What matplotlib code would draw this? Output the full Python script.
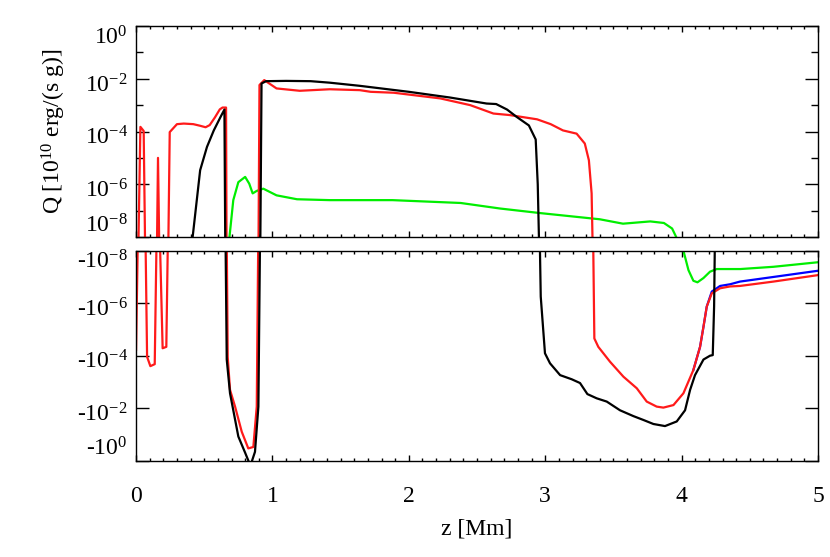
import numpy as np
import matplotlib
matplotlib.use('Agg')
import matplotlib.pyplot as plt
import matplotlib.transforms as mtransforms
from matplotlib.ticker import MultipleLocator, NullLocator, FixedLocator

# heating rate Q vs height z, signed (negative part goes in lower panel)
z_black = [0.40, 0.415, 0.47, 0.52, 0.57, 0.62, 0.648, 0.655, 0.665, 0.689, 0.75, 0.80,
           0.835, 0.848, 0.872, 0.897, 0.91, 0.92, 0.953, 1.10, 1.28, 1.42, 1.64, 2.00,
           2.30, 2.57, 2.64, 2.72, 2.79, 2.88, 2.93, 2.945, 2.958, 2.967, 2.998, 3.035,
           3.109, 3.194, 3.255, 3.309, 3.377, 3.451, 3.548, 3.646, 3.719, 3.793, 3.878,
           3.964, 4.025, 4.062, 4.098, 4.16, 4.208, 4.228, 4.238, 4.245]
q_black = [0, 1e-8, 3.4e-6, 2.6e-5, 1.1e-4, 3.6e-4, 6.8e-4, 0, -1.4e-4, -2.7e-3, -0.12, -0.5,
           -1.4, -1.1, -0.46, -8.7e-3, 0, 6.6e-3, 8.1e-3, 8.3e-3, 8.1e-3, 7.1e-3, 5.4e-3, 3.2e-3,
           1.95e-3, 1.15e-3, 1.1e-3, 6.8e-4, 3.6e-4, 1.7e-4, 5e-5, 1e-6, 0, -5.6e-7, -8.1e-5, -1.95e-4,
           -5.5e-4, -7.9e-4, -1.1e-3, -2.9e-3, -4.2e-3, -5.6e-3, -1.2e-2, -2.0e-2, -2.8e-2, -4.0e-2, -4.8e-2,
           -3.2e-2, -1.2e-2, -2.0e-3, -5.5e-4, -1.4e-4, -1.0e-4, -9.5e-5, -1.3e-6, 0]

z_red = [0.0, 0.015, 0.032, 0.056, 0.068, 0.081, 0.105, 0.137, 0.152, 0.161,
         0.172, 0.195, 0.222, 0.235, 0.247, 0.30, 0.35, 0.42, 0.47, 0.51,
         0.54, 0.578, 0.614, 0.634, 0.66, 0.664, 0.672, 0.689, 0.726, 0.775,
         0.823, 0.86, 0.885, 0.897, 0.905, 0.94, 1.03, 1.20, 1.42, 1.64,
         1.72, 1.89, 2.23, 2.45, 2.62, 2.74, 2.94, 3.04, 3.13, 3.23,
         3.29, 3.32, 3.34, 3.35, 3.36, 3.389, 3.475, 3.573, 3.671, 3.744,
         3.817, 3.866, 3.94, 4.013, 4.086, 4.135, 4.16, 4.184, 4.221, 4.282,
         4.355, 4.428, 4.673, 5.0]
q_red = [-6.0e-5, 0, 1.5e-4, 1.05e-4, 0, -1.1e-4, -2.5e-4, -2.1e-4, 0, 1e-5,
         0, -5.2e-5, -4.6e-5, 0, 9.5e-5, 1.9e-4, 2.0e-4, 1.9e-4, 1.65e-4, 1.45e-4,
         1.75e-4, 3.4e-4, 6.9e-4, 8.1e-4, 8.1e-4, 0, -1.1e-4, -2.0e-3, -8.7e-3, -7.9e-2,
         -0.34, -0.30, -8.7e-3, 0, 5.8e-3, 8.9e-3, 4.3e-3, 3.5e-3, 4.0e-3, 3.7e-3,
         3.2e-3, 2.95e-3, 1.8e-3, 1.0e-3, 4.8e-4, 4.2e-4, 2.9e-4, 1.9e-4, 1.1e-4, 8.3e-5,
         3.5e-5, 8.1e-6, 4.5e-7, 0, -2.2e-5, -4.6e-5, -1.7e-4, -6.3e-4, -1.74e-3, -5.6e-3,
         -8.7e-3, -9.5e-3, -7.6e-3, -2.7e-3, -3.5e-4, -4.6e-5, -7.9e-6, -1.35e-6, -4.2e-7, -2.7e-7,
         -2.3e-7, -2.2e-7, -1.5e-7, -8.5e-8]

z_blue = [4.086, 4.135, 4.16, 4.184, 4.221, 4.282, 4.355, 4.428, 4.673, 5.0]
q_blue = [-3.5e-4, -4.6e-5, -7.9e-6, -1.35e-6, -3.6e-7, -2.2e-7, -1.9e-7, -1.5e-7, -1.0e-7, -5.8e-8]

z_green = [0.68, 0.685, 0.713, 0.75, 0.80, 0.83, 0.855, 0.885, 0.933, 1.03,
           1.18, 1.42, 1.72, 1.88, 2.38, 2.67, 2.96, 3.40, 3.57, 3.77,
           3.87, 3.93, 3.96, 3.99, 4.013, 4.05, 4.086, 4.116, 4.16, 4.208,
           4.257, 4.43, 4.673, 5.0]
q_green = [0, 1e-8, 2.5e-7, 1.2e-6, 1.9e-6, 1.05e-6, 4.5e-7, 5.6e-7, 6.8e-7, 3.8e-7,
           2.7e-7, 2.5e-7, 2.5e-7, 2.5e-7, 1.95e-7, 1.2e-7, 8.1e-8, 4.7e-8, 3.2e-8, 3.9e-8,
           3.4e-8, 2.1e-8, 1e-8, 0, -1e-8, -5.5e-8, -1.4e-7, -1.6e-7, -1.1e-7, -6.3e-8,
           -5e-8, -5e-8, -4.1e-8, -2.75e-8]

top_ticks = [1e0, 1e-2, 1e-4, 1e-6, 1e-8]
top_labels = ['10$^{0}$', '10$^{-2}$', '10$^{-4}$', '10$^{-6}$', '10$^{-8}$']
top_minor = [1e-1, 1e-3, 1e-5, 1e-7]
bot_ticks = [1e-8, 1e-6, 1e-4, 1e-2, 1e0]
bot_labels = ['-10$^{-8}$', '-10$^{-6}$', '-10$^{-4}$', '-10$^{-2}$', '-10$^{0}$']
x_ticks = [0, 1, 2, 3, 4, 5]

FLOOR = 1e-9  # stand-in for "other sign", falls just outside each panel

plt.rcParams['font.family'] = ['Liberation Serif', 'DejaVu Serif']
plt.rcParams['mathtext.fontset'] = 'custom'
plt.rcParams['mathtext.rm'] = 'Liberation Serif'
plt.rcParams['mathtext.it'] = 'Liberation Serif:italic'
plt.rcParams['axes.linewidth'] = 1.0

fig = plt.figure(figsize=(8.3, 5.57), dpi=100)
ax_top = fig.add_axes([0.1639, 0.5745, 0.8217, 0.3788])
ax_bot = fig.add_axes([0.1639, 0.1729, 0.8217, 0.3770])

series = [(z_green, q_green, '#00ee00'),
          (z_blue, q_blue, '#0000ff'),
          (z_red, q_red, '#ff1a1a'),
          (z_black, q_black, 'black')]

for z, q, col in series:
    q = np.array(q, dtype=float)
    pos = np.where(q > 0, q, FLOOR)
    neg = np.where(q < 0, -q, FLOOR)
    ax_top.plot(z, pos, color=col, lw=1.6)
    ax_bot.plot(z, neg, color=col, lw=1.6)

# upper panel: positive Q
ax_top.set_yscale('log')
ax_top.set_ylim(1e-8, 1e0)
ax_top.set_yticks(top_ticks, top_labels)
ax_top.yaxis.set_minor_locator(FixedLocator(top_minor))
ax_top.yaxis.set_minor_formatter(plt.NullFormatter())
ax_top.set_ylabel('Q [10$^{10}$ erg/(s g)]', fontsize=17)
ax_top.yaxis.set_label_coords(-0.1, 0.5)

# lower panel: negative Q, magnitude grows downward
ax_bot.set_yscale('log')
ax_bot.set_ylim(1e0, 1e-8)
ax_bot.set_yticks(bot_ticks, bot_labels)
ax_bot.yaxis.set_minor_locator(NullLocator())
ax_bot.set_xlabel('z [Mm]', fontsize=17)
ax_bot.xaxis.set_label_coords(0.5, -0.275)

for ax in (ax_top, ax_bot):
    ax.set_xlim(0, 5)
    ax.set_xticks(x_ticks)
    ax.xaxis.set_minor_locator(MultipleLocator(0.1))
    ax.tick_params(axis='both', which='both', direction='in', top=True, right=True,
                   labelsize=17, width=1.0)
    ax.tick_params(axis='y', which='major', length=9.5, pad=6)
    ax.tick_params(axis='y', which='minor', length=5)
    ax.tick_params(axis='x', which='major', length=4.5, pad=18)
    ax.tick_params(axis='x', which='minor', length=2.2)

ax_top.tick_params(axis='x', labelbottom=False)

# keep the end labels inside each panel, nudge the middle ones down a little
shift = mtransforms.ScaledTranslation(0, -3 / 72, fig.dpi_scale_trans)
for ax in (ax_top, ax_bot):
    labs = ax.get_yticklabels()
    labs[0].set_va('top' if ax is ax_top else 'top')
    labs[-1].set_va('bottom')
    for lab in labs[1:-1]:
        lab.set_transform(lab.get_transform() + shift)

fig.savefig('out.png', dpi=100)
